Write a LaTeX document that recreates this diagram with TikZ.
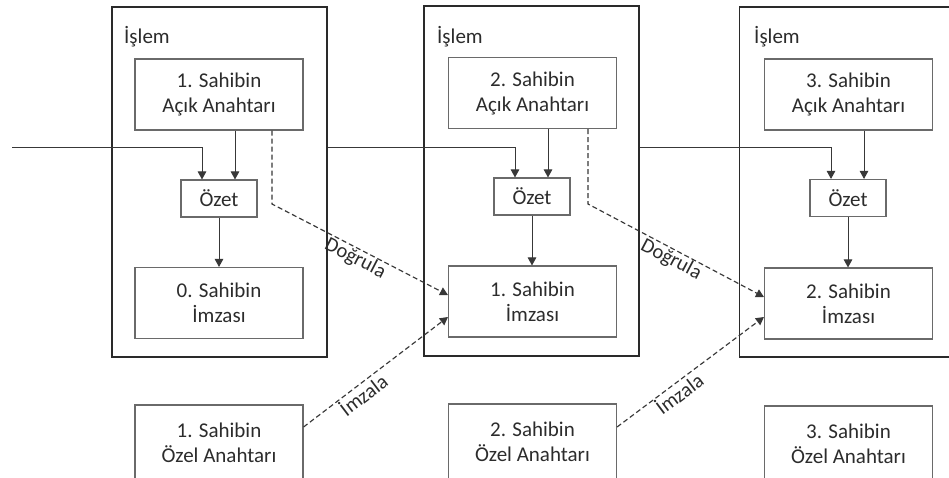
\documentclass[tikz,border=0pt]{standalone}
\usepackage{fontspec}
\setmainfont{Carlito}
\usetikzlibrary{arrows.meta}
\definecolor{txt}{HTML}{2C2C2C}
\definecolor{bx}{HTML}{6A6A6A}
\definecolor{outerc}{HTML}{2A2A2A}
\definecolor{ln}{HTML}{383838}
\tikzset{
  box/.style={draw=bx, line width=1.1pt, text=txt, align=center,
    font=\fontsize{21}{25}\selectfont, inner sep=0pt},
  wide/.style={box, minimum width=168pt, minimum height=71pt},
  hashbox/.style={box, minimum width=76pt, minimum height=37pt},
  outerbox/.style={draw=outerc, line width=1.2pt, inner sep=0pt},
  ttl/.style={anchor=base west, inner sep=0pt, text=txt, font=\fontsize{21}{25}\selectfont},
  arr/.style={draw=ln, line width=1pt, -{Triangle[width=8.5pt,length=8pt]}},
  dsh/.style={arr, line width=1.15pt, dash pattern=on 5pt off 3pt},
  lbl/.style={sloped, below, inner sep=1pt, text=txt, font=\fontsize{20.5}{24}\selectfont}
}
\begin{document}
\begin{tikzpicture}[x=1pt,y=-1pt]
\useasboundingbox (0,0) rectangle (949,477);
\clip (0,0) rectangle (949,477);
\fill[white] (0,0) rectangle (949,477);

% outer transaction boxes
\node[outerbox, minimum width=215pt, minimum height=350pt] (T1) at (219.5,182) {};
\node[outerbox, minimum width=215pt, minimum height=350pt] (T2) at (531.5,181) {};
\node[outerbox, minimum width=225pt, minimum height=350pt] (T3) at (852,182) {};

\node[ttl] (L1) at (124,43) {İşlem};
\node[ttl] (L2) at (437,43) {İşlem};
\node[ttl] (L3) at (754,43) {İşlem};

% public keys
\node[wide] (pk1) at (219,94.5) {1. Sahibin\\Açık Anahtarı};
\node[wide] (pk2) at (532.5,93) {2. Sahibin\\Açık Anahtarı};
\node[wide] (pk3) at (848.5,94.5) {3. Sahibin\\Açık Anahtarı};

% hashes
\node[hashbox] (oz1) at (219,198.5) {Özet};
\node[hashbox] (oz2) at (532,196.5) {Özet};
\node[hashbox] (oz3) at (848,198) {Özet};

% signatures
\node[wide] (sg1) at (219,303) {0. Sahibin\\İmzası};
\node[wide] (sg2) at (532.5,301.5) {1. Sahibin\\İmzası};
\node[wide] (sg3) at (848.5,303.5) {2. Sahibin\\İmzası};

% private keys
\node[wide, minimum height=76pt] (pr1) at (219,443) {1. Sahibin\\Özel Anahtarı};
\node[wide, minimum height=76pt] (pr2) at (532.5,442) {2. Sahibin\\Özel Anahtarı};
\node[wide, minimum height=76pt] (pr3) at (848.5,444) {3. Sahibin\\Özel Anahtarı};

% chain lines
\coordinate (start) at (12,147);
\draw[arr] (start) -| ([xshift=-17pt]oz1.north);
\draw[arr] (T1.east |- start) -| ([xshift=-17pt]oz2.north);
\draw[arr] (T2.east |- start) -| ([xshift=-17pt]oz3.north);

% public key -> hash
\draw[arr] ([xshift=16pt]oz1.north |- pk1.south) -- ([xshift=16pt]oz1.north);
\draw[arr] ([xshift=16pt]oz2.north |- pk2.south) -- ([xshift=16pt]oz2.north);
\draw[arr] ([xshift=16pt]oz3.north |- pk3.south) -- ([xshift=16pt]oz3.north);

% hash -> signature
\draw[arr] (oz1.south) -- (oz1.south |- sg1.north);
\draw[arr] (oz2.south) -- (oz2.south |- sg2.north);
\draw[arr] (oz3.south) -- (oz3.south |- sg3.north);

% verify
\coordinate (c1) at (272,204);
\coordinate (c2) at (588,204);
\draw[dsh] (c1 |- pk1.south) -- (c1) -- node[lbl,pos=0.5] (v1) {Doğrula} ([yshift=6.5pt]sg2.west);
\draw[dsh] (c2 |- pk2.south) -- (c2) -- node[lbl,pos=0.5] (v2) {Doğrula} ([yshift=6.5pt]sg3.west);

% sign
\draw[dsh] ([yshift=16pt]pr1.east) -- node[lbl,pos=0.37] (s1) {İmzala} ([yshift=-15.5pt]sg2.west);
\draw[dsh] ([yshift=15pt]pr2.east) -- node[lbl,pos=0.38] (s2) {İmzala} ([yshift=-13.5pt]sg3.west);
\end{tikzpicture}
\end{document}
